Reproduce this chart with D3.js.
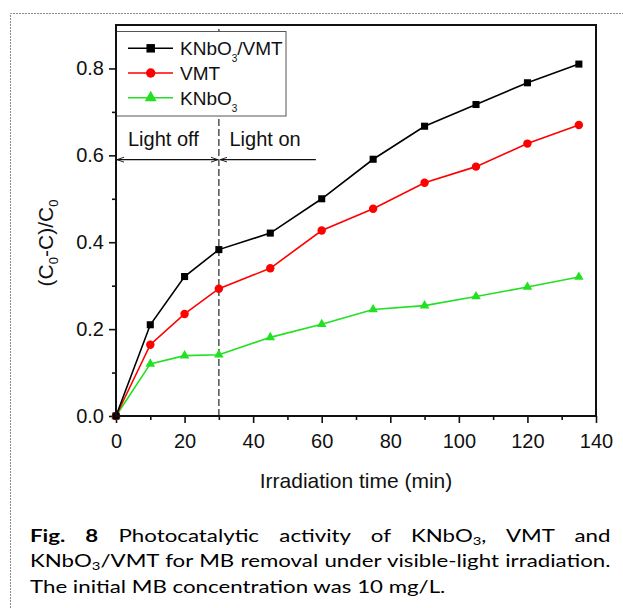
<!DOCTYPE html>
<html>
<head>
<meta charset="utf-8">
<script src="https://cdn.jsdelivr.net/npm/d3@7"></script>
<style>
  body { margin: 0; background: #fff; }
  #wrap { position: relative; width: 623px; height: 608px; overflow: hidden; }
  svg { position: absolute; left: 0; top: 0; }
  #caption {
    position: absolute; left: 30px; top: 524px; width: 430px;
    transform: scaleX(1.35); transform-origin: 0 0;
    font-family: Lato, "Noto Sans", sans-serif; font-size: 16.5px; line-height: 25.4px; color: #000;
  }
  #caption .j { text-align: justify; text-align-last: justify; white-space: nowrap; }
  #caption sub { font-size: 11px; vertical-align: -3px; line-height: 0; }
</style>
</head>
<body>
<div id="wrap">
  <div id="chart"></div>
  <div id="caption">
    <div class="j"><b>Fig. 8</b> Photocatalytic activity of KNbO<sub>3</sub>, VMT and</div>
    <div class="j">KNbO<sub>3</sub>/VMT for MB removal under visible-light irradiation.</div>
    <div>The initial MB concentration was 10 mg/L.</div>
  </div>
</div>
<script>
// irradiation time (min)
var times = [0, 10, 20, 30, 45, 60, 75, 90, 105, 120, 135];
// (C0-C)/C0
var knbo3Vmt = [0, 0.210, 0.321, 0.383, 0.421, 0.500, 0.591, 0.667, 0.717, 0.767, 0.810];
var vmt      = [0, 0.164, 0.235, 0.293, 0.340, 0.427, 0.477, 0.537, 0.574, 0.627, 0.670];
var knbo3    = [0, 0.120, 0.139, 0.141, 0.181, 0.211, 0.245, 0.254, 0.275, 0.297, 0.320];

var xTicks = [0, 20, 40, 60, 80, 100, 120, 140];
var xMinor = [10, 30, 50, 70, 90, 110, 130];
var yTicks = [0, 0.2, 0.4, 0.6, 0.8];
var yMinor = [0.1, 0.3, 0.5, 0.7];

var lightSwitch = 30;

var W = 623, H = 608;
var pLeft = 116, pRight = 596, pTop = 25, pBottom = 416;

var svg = d3.select("#chart").append("svg")
  .attr("width", W)
  .attr("height", H);

// dotted page border (top and left)
svg.append("path")
  .attr("d", "M10.5," + H + "V13.5H" + W)
  .attr("fill", "none")
  .attr("stroke", "#8a8a8a")
  .attr("stroke-width", 1)
  .attr("stroke-dasharray", "2,1");

var x = d3.scaleLinear().domain([0, 140]).range([pLeft, pRight]);
var y = d3.scaleLinear().domain([0, 0.9]).range([pBottom, pTop]);

var font = "'Liberation Sans', Arial, sans-serif";

// axes
var gx = svg.append("g")
  .attr("transform", "translate(0," + pBottom + ")")
  .call(d3.axisBottom(x).tickValues(xTicks).tickSize(7).tickPadding(11).tickFormat(d3.format("d")));
var gxm = svg.append("g")
  .attr("transform", "translate(0," + pBottom + ")")
  .call(d3.axisBottom(x).tickValues(xMinor).tickSize(4).tickFormat(""));
var gy = svg.append("g")
  .attr("transform", "translate(" + pLeft + ",0)")
  .call(d3.axisLeft(y).tickValues(yTicks).tickSize(7).tickPadding(5).tickFormat(d3.format(".1f")));
var gym = svg.append("g")
  .attr("transform", "translate(" + pLeft + ",0)")
  .call(d3.axisLeft(y).tickValues(yMinor).tickSize(4).tickFormat(""));

[gx, gxm, gy, gym].forEach(function(g) {
  g.select(".domain").remove();
  g.selectAll(".tick line").attr("stroke", "#111").attr("stroke-width", 1.6);
  g.selectAll(".tick text").attr("font-family", font).attr("font-size", 20).attr("fill", "#111");
});

// axis titles
svg.append("text")
  .attr("x", (pLeft + pRight) / 2)
  .attr("y", 488)
  .attr("text-anchor", "middle")
  .attr("font-family", font)
  .attr("font-size", 21)
  .attr("fill", "#111")
  .text("Irradiation time (min)");

var yl = svg.append("text")
  .attr("transform", "translate(53,243) rotate(-90)")
  .attr("text-anchor", "middle")
  .attr("font-family", font)
  .attr("font-size", 21)
  .attr("fill", "#111");
yl.append("tspan").text("(C");
yl.append("tspan").attr("font-size", 13).attr("dy", 5).text("0");
yl.append("tspan").attr("dy", -5).text("-C)/C");
yl.append("tspan").attr("font-size", 13).attr("dy", 5).text("0");

// light off / light on divider
svg.append("line")
  .attr("x1", x(lightSwitch)).attr("x2", x(lightSwitch))
  .attr("y1", y(0)).attr("y2", y(0.9))
  .attr("stroke", "#444")
  .attr("stroke-width", 1.4)
  .attr("stroke-dasharray", "7,3");

var defs = svg.append("defs");
defs.append("marker")
  .attr("id", "arr")
  .attr("viewBox", "0 0 10 10")
  .attr("refX", 10).attr("refY", 5)
  .attr("markerWidth", 7).attr("markerHeight", 7)
  .attr("markerUnits", "userSpaceOnUse")
  .attr("orient", "auto-start-reverse")
  .append("path")
  .attr("d", "M0,1.5L10,5L0,8.5")
  .attr("fill", "none")
  .attr("stroke", "#111")
  .attr("stroke-width", 1.3);

var arrowY = y(0.59);
svg.append("line")
  .attr("x1", x(0) + 1).attr("x2", x(lightSwitch) - 1)
  .attr("y1", arrowY).attr("y2", arrowY)
  .attr("stroke", "#111").attr("stroke-width", 1.2)
  .attr("marker-start", "url(#arr)")
  .attr("marker-end", "url(#arr)");
svg.append("line")
  .attr("x1", x(58.3)).attr("x2", x(lightSwitch) + 1.5)
  .attr("y1", arrowY).attr("y2", arrowY)
  .attr("stroke", "#111").attr("stroke-width", 1.2)
  .attr("marker-end", "url(#arr)");

svg.append("text")
  .attr("x", x(3.5)).attr("y", y(0.622))
  .attr("font-family", font).attr("font-size", 20).attr("fill", "#111")
  .text("Light off");
svg.append("text")
  .attr("x", x(33.1)).attr("y", y(0.622))
  .attr("font-family", font).attr("font-size", 20).attr("fill", "#111")
  .text("Light on");

// series
var series = [
  { name: "KNbO3/VMT", values: knbo3Vmt, color: "#000000", symbol: d3.symbolSquare, size: 50, legSize: 72 },
  { name: "VMT", values: vmt, color: "#ff0000", symbol: d3.symbolCircle, size: 56, legSize: 70 },
  { name: "KNbO3", values: knbo3, color: "#22e022", symbol: d3.symbolTriangle, size: 40, legSize: 62 }
];

var line = d3.line()
  .x(function(d) { return x(d[0]); })
  .y(function(d) { return y(d[1]); });

series.slice().reverse().forEach(function(s) {
  var pts = times.map(function(t, i) { return [t, s.values[i]]; });
  svg.append("path")
    .datum(pts)
    .attr("d", line)
    .attr("fill", "none")
    .attr("stroke", s.color)
    .attr("stroke-width", 1.6);
  svg.append("g")
    .selectAll("path")
    .data(pts)
    .enter().append("path")
    .attr("transform", function(d) { return "translate(" + x(d[0]) + "," + y(d[1]) + ")"; })
    .attr("d", d3.symbol().type(s.symbol).size(s.size))
    .attr("fill", s.color);
});

// legend
var leg = svg.append("g").attr("transform", "translate(" + pLeft + ",31.5)");
leg.append("rect")
  .attr("width", 170).attr("height", 84.5)
  .attr("fill", "#fff")
  .attr("stroke", "#555")
  .attr("stroke-width", 1);

var row = leg.selectAll(".row")
  .data(series)
  .enter().append("g")
  .attr("class", "row")
  .attr("transform", function(d, i) { return "translate(0," + (16.8 + i * 24.7) + ")"; });
row.append("line")
  .attr("x1", 12).attr("x2", 57)
  .attr("stroke", function(d) { return d.color; })
  .attr("stroke-width", 1.6);
row.append("path")
  .attr("transform", "translate(34.7,0)")
  .attr("d", function(d) { return d3.symbol().type(d.symbol).size(d.legSize)(); })
  .attr("fill", function(d) { return d.color; });
var lt = row.append("text")
  .attr("x", 64).attr("y", 7)
  .attr("font-family", font).attr("font-size", 19).attr("fill", "#111");
lt.each(function(d) {
  var t = d3.select(this);
  var m = d.name.match(/^(KNbO)(3)(.*)$/);
  if (m) {
    t.append("tspan").text(m[1]);
    t.append("tspan").attr("font-size", 10).attr("dy", 7).text(m[2]);
    if (m[3]) t.append("tspan").attr("dy", -7).text(m[3]);
  } else {
    t.text(d.name);
  }
});

// frame
svg.append("rect")
  .attr("x", pLeft).attr("y", pTop)
  .attr("width", pRight - pLeft).attr("height", pBottom - pTop)
  .attr("fill", "none")
  .attr("stroke", "#111")
  .attr("stroke-width", 2);
</script>
</body>
</html>
